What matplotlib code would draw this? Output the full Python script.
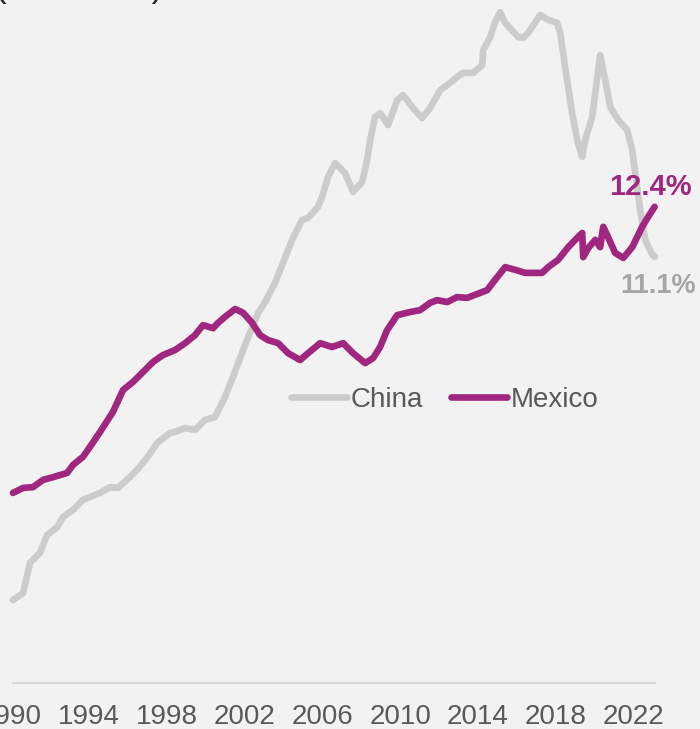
import numpy as np
import matplotlib.pyplot as plt

# series (decimal year, % share)
mex_year = [1990.10, 1990.62, 1991.13, 1991.65, 1992.16, 1992.88, 1993.19, 1993.70, 1994.06, 1994.58,
            1995.24, 1995.76, 1996.27, 1996.79, 1997.30, 1997.81, 1998.43, 1998.95, 1999.46, 1999.87,
            2000.39, 2000.64, 2001.11, 2001.52, 2001.93, 2002.39, 2002.80, 2003.21, 2003.73, 2004.24,
            2004.86, 2005.27, 2005.89, 2006.50, 2007.07, 2007.58, 2008.20, 2008.61, 2008.97, 2009.33,
            2009.85, 2010.51, 2011.03, 2011.54, 2011.90, 2012.42, 2012.93, 2013.45, 2013.96, 2014.47,
            2014.99, 2015.40, 2015.91, 2016.43, 2017.30, 2017.61, 2018.12, 2018.64, 2019.00, 2019.36,
            2019.41, 2019.67, 2020.03, 2020.28, 2020.44, 2020.69, 2021.05, 2021.47, 2021.93, 2022.44,
            2022.75, 2023.08]
mex_share = [4.95, 5.08, 5.10, 5.29, 5.36, 5.47, 5.68, 5.89, 6.15, 6.54,
             7.06, 7.63, 7.84, 8.10, 8.36, 8.54, 8.67, 8.85, 9.06, 9.32,
             9.24, 9.38, 9.58, 9.74, 9.64, 9.38, 9.06, 8.93, 8.85, 8.59,
             8.41, 8.59, 8.85, 8.75, 8.85, 8.59, 8.33, 8.46, 8.75, 9.19,
             9.58, 9.66, 9.71, 9.90, 9.97, 9.92, 10.05, 10.03, 10.13, 10.23,
             10.57, 10.83, 10.76, 10.68, 10.68, 10.83, 11.02, 11.35, 11.54, 11.72,
             11.09, 11.33, 11.54, 11.35, 11.88, 11.61, 11.20, 11.07, 11.35, 11.88,
             12.14, 12.40]

chn_year = [1990.10, 1990.62, 1990.98, 1991.49, 1991.85, 1992.37, 1992.67, 1993.19, 1993.70, 1994.58,
            1995.09, 1995.50, 1995.96, 1996.48, 1996.99, 1997.51, 1998.17, 1998.43, 1998.95, 1999.46,
            1999.97, 2000.49, 2001.00, 2001.41, 2001.93, 2002.19, 2002.70, 2003.06, 2003.57, 2003.98,
            2004.45, 2004.96, 2005.27, 2005.78, 2005.99, 2006.30, 2006.66, 2007.17, 2007.58, 2008.05,
            2008.30, 2008.46, 2008.71, 2008.97, 2009.38, 2009.85, 2010.15, 2010.62, 2011.13, 2011.54,
            2012.06, 2012.42, 2012.93, 2013.24, 2013.75, 2014.22, 2014.27, 2014.63, 2014.88, 2015.14,
            2015.40, 2016.07, 2016.32, 2016.58, 2017.20, 2017.61, 2018.07, 2018.23, 2018.48, 2018.84,
            2019.10, 2019.36, 2019.51, 2019.87, 2020.28, 2020.54, 2020.80, 2021.21, 2021.67, 2021.93,
            2022.08, 2022.34, 2022.60, 2022.96, 2023.10]
chn_share = [2.16, 2.34, 3.13, 3.39, 3.85, 4.06, 4.32, 4.51, 4.77, 4.95,
             5.10, 5.08, 5.29, 5.55, 5.86, 6.25, 6.51, 6.54, 6.64, 6.59,
             6.85, 6.93, 7.45, 7.97, 8.67, 9.01, 9.64, 9.92, 10.42, 10.94,
             11.54, 12.06, 12.11, 12.40, 12.66, 13.18, 13.54, 13.28, 12.79, 13.05,
             13.62, 14.14, 14.74, 14.84, 14.53, 15.18, 15.31, 15.00, 14.71, 14.97,
             15.44, 15.57, 15.78, 15.89, 15.89, 16.09, 16.48, 16.82, 17.21, 17.47,
             17.19, 16.82, 16.80, 16.93, 17.40, 17.27, 17.19, 16.93, 16.04, 14.84,
             14.14, 13.70, 14.14, 14.74, 16.35, 15.70, 15.00, 14.66, 14.40, 13.88,
             13.28, 12.32, 11.54, 11.15, 11.10]

tick_years = [1990, 1994, 1998, 2002, 2006, 2010, 2014, 2018, 2022]

bg = '#F2F2F2'
purple = '#A0267F'
grey = '#CCCCCC'
txt = '#595959'

plt.rcParams['font.family'] = ['Liberation Sans', 'DejaVu Sans']

fig = plt.figure(figsize=(7, 7.29), dpi=100, facecolor=bg)
ax = fig.add_axes([11 / 700, 46 / 729, 644 / 700, 683 / 729])
ax.set_facecolor(bg)

ax.plot(chn_year, chn_share, color=grey, lw=4.8, solid_joinstyle='round',
        solid_capstyle='round', label='China', clip_on=False)
ax.plot(mex_year, mex_share, color=purple, lw=4.8, solid_joinstyle='round',
        solid_capstyle='round', label='Mexico', clip_on=False)

ax.set_xlim(1990.0, 2023.1)
ax.set_ylim(0, 683 / 38.4)

for s in ['top', 'right', 'left']:
    ax.spines[s].set_visible(False)
ax.spines['bottom'].set_color('#D9D9D9')
ax.spines['bottom'].set_linewidth(1.5)
ax.spines['bottom'].set_bounds(1990.1, 2023.1)

ax.set_yticks([])
ax.set_xticks(tick_years)
ax.set_xticklabels([str(y) for y in tick_years])
ax.tick_params(axis='x', length=0, pad=15, labelsize=20, labelcolor=txt)

ax.annotate('{:.1f}%'.format(mex_share[-1]), xy=(mex_year[-1], mex_share[-1]),
            xytext=(-3, 14), textcoords='offset points', ha='center', va='center',
            fontsize=21, fontweight='bold', color=purple, annotation_clip=False)
ax.annotate('{:.1f}%'.format(chn_share[-1]), xy=(chn_year[-1], chn_share[-1]),
            xytext=(2, -21), textcoords='offset points', ha='center', va='center',
            fontsize=19.5, fontweight='bold', color='#A6A6A6', annotation_clip=False)

leg = fig.legend(loc='center', bbox_to_anchor=(445 / 700, 1 - 400 / 729), ncol=2,
                 frameon=False, fontsize=20, handlelength=2.0, handletextpad=0.15,
                 columnspacing=1.0)
for t in leg.get_texts():
    t.set_color(txt)

# subtitle sits just above the crop, only the bottom of the brackets shows
fig.text(-5 / 700, 1 + 3 / 729, '(% of total)', fontsize=25, color='#262626',
         ha='left', va='baseline')

fig.savefig('out.png', dpi=100, facecolor=bg)
